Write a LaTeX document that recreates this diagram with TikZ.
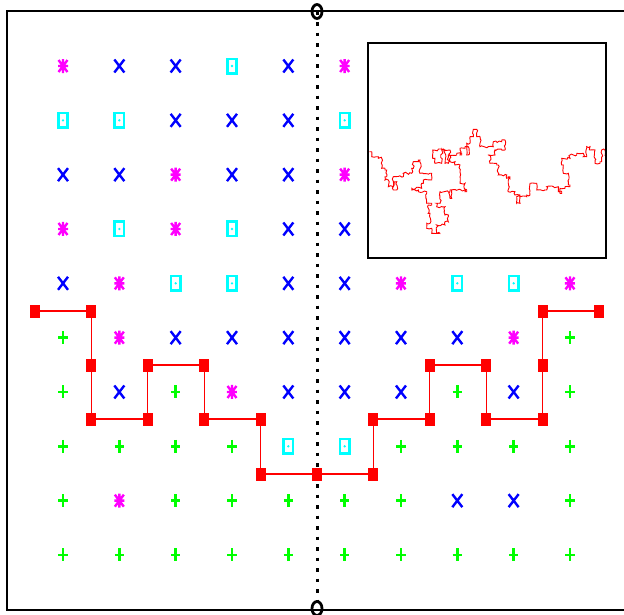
\documentclass[tikz,border=0pt]{standalone}
\usetikzlibrary{calc,shapes.geometric,decorations.pathmorphing}
\definecolor{mgreen}{RGB}{0,255,0}
\definecolor{mcyan}{RGB}{0,255,255}
\definecolor{mblue}{RGB}{0,0,255}
\definecolor{mmag}{RGB}{255,0,255}
\definecolor{mred}{RGB}{255,0,0}
\tikzset{
  frame/.style={line width=2pt, black},
  mk/.style={line width=2.4pt},
  pics/mkX/.style={code={\draw[mk,mblue] (-5,-6.5)--(5,6.5) (-5,6.5)--(5,-6.5);}},
  pics/mkP/.style={code={\draw[mk,mgreen] (-4.6,0)--(4.6,0) (0,-6.5)--(0,6.5);}},
  pics/mkM/.style={code={\draw[mk,mmag] (-5,0)--(5,0) (0,-7)--(0,7) (-4.5,-6)--(4.5,6) (-4.5,6)--(4.5,-6);}},
  pics/mkC/.style={code={\draw[line width=2.6pt,mcyan] (-4.6,-7.2) rectangle (4.6,7.2); \fill[mcyan] (0,0) circle (1.3);}},
  rsq/.style={fill=mred, draw=none, minimum width=10pt, minimum height=13pt, inner sep=0pt},
  rline/.style={mred, line width=1.3pt},
  endcirc/.style={draw=black, line width=2.8pt, ellipse, minimum width=10pt, minimum height=14pt, inner sep=0pt},
  dotline/.style={black, line width=3pt, dash pattern=on 3.5pt off 7pt},
  walk/.style={mred, line width=0.9pt, decorate, decoration={random steps, segment length=2.2pt, amplitude=1.1pt}},
}
\begin{document}
\begin{tikzpicture}[x=1pt,y=-1pt]
\pgfmathsetseed{7}
\useasboundingbox (0,0) rectangle (624,614);
% outer frame
\draw[frame] (624,11) -- (7,11) -- (7,609.5) -- (624,609.5);
% markers
\foreach \row [count=\r] in {
  {M,X,X,C,X,M},
  {C,C,X,X,X,C},
  {X,X,M,X,X,M},
  {M,C,M,C,X,X},
  {X,M,C,C,X,X,M,C,C,M},
  {P,M,X,X,X,X,X,X,M,P},
  {P,X,P,M,X,X,X,P,X,P},
  {P,P,P,P,C,C,P,P,P,P},
  {P,M,P,P,P,P,P,X,X,P},
  {P,P,P,P,P,P,P,P,P,P}}{
  \foreach \t [count=\c] in \row {
    \pic at ({63+56.33*(\c-1)},{66+54.33*(\r-1)}) {mk\t};
  }
}
% dotted divider
\node[endcirc] (top) at (317,11.5) {};
\node[endcirc] (bot) at (317,608.5) {};
\draw[dotline] (top.center) -- (bot.center);
% red path
\node[rsq] (q1) at (35,311) {};
\node[rsq] (q2) at (91.4,311) {};
\node[rsq] (q3) at (91.4,365) {};
\node[rsq] (q4) at (91.4,419) {};
\node[rsq] (q5) at (147.8,419) {};
\node[rsq] (q6) at (147.8,365) {};
\node[rsq] (q7) at (204.2,365) {};
\node[rsq] (q8) at (204.2,419) {};
\node[rsq] (q9) at (260.6,419) {};
\node[rsq] (q10) at (260.6,474) {};
\node[rsq] (q11) at (317,474) {};
\node[rsq] (q12) at (373.4,474) {};
\node[rsq] (q13) at (373.4,419) {};
\node[rsq] (q14) at (429.8,419) {};
\node[rsq] (q15) at (429.8,365) {};
\node[rsq] (q16) at (486.2,365) {};
\node[rsq] (q17) at (486.2,419) {};
\node[rsq] (q18) at (542.6,419) {};
\node[rsq] (q19) at (542.6,365) {};
\node[rsq] (q20) at (542.6,311) {};
\node[rsq] (q21) at (599,311) {};
\draw[rline] (q1.center) \foreach \i in {2,...,21} { -- (q\i.center) };
% inset
\fill[white] (368,43) rectangle (606,258);
\draw[walk] (369.3,151.7) -| (371.7,156.7) -| (378.3,158.3) -| (381.7,168.3) -| (385,170) -| (386.7,176.7) -| (385,180) -| (388.3,186.7) -| (393.3,181.7) -| (396.7,190) -| (393.3,176.7) -| (403.3,173.3) -| (411.7,168.3) -| (413.3,161.7) -| (418.3,160) -| (420,173.3) -| (430,173.3) -| (431.7,180) -| (423.3,183.3) -| (421.7,188.3) -| (411.7,190) -| (418.3,191.7) -| (426.7,193.3) -| (426.7,203.3) -| (431.7,205) -| (428.3,213.3) -| (430,223.3) -| (426.7,228.3) -| (431.7,233.3) -| (440,233.3) -| (436.7,225) -| (445,221.7) -| (448.3,215) -| (445,206.7) -| (436.7,203.3) -| (440,191.7) -| (450,190) -| (451.7,198.3) -| (450,190) -| (466.7,191.7) -| (465,183.3) -| (460,176.7) -| (460,165) -| (455,161.7) -| (450,150) -| (441.7,150) -| (441.7,163.3) -| (435,158.3) -| (432.7,150) -| (443.3,150) -| (445,163.3) -| (448.3,155) -| (456.7,153.3) -| (461.7,155) -| (460,148.3) -| (465,146.7) -| (468.3,155) -| (466.7,143.3) -| (470,136.7) -| (473.3,129.3) -| (476.7,136.7) -| (480,143.3) -| (480,146.7) -| (488.3,146.7) -| (493.3,141.7) -| (501.7,140) -| (505,150) -| (495,155) -| (488.3,155) -| (490,163.3) -| (496.7,165) -| (498.3,175) -| (506.7,178.3) -| (510,176.7) -| (508.3,191.7) -| (515,195) -| (520,203.3) -| (516.7,196.7) -| (526.7,195) -| (530,183.3) -| (535,183.3) -| (536.7,190) -| (545,190) -| (546.7,186.7) -| (553.3,186.7) -| (558.3,191.7) -| (561.7,193.3) -| (560,188.3) -| (565,186.7) -| (570,185) -| (568.3,173.3) -| (563.3,165) -| (561.7,158.3) -| (570,155) -| (576.7,153.3) -| (583.3,156.7) -| (586.7,146.7) -| (590,150) -| (595,163.3) -| (600,161.7) -| (601.7,150) -| (605,150) -| (605,156.7);
\draw[frame] (368,43) rectangle (606,258);
\end{tikzpicture}
\end{document}
